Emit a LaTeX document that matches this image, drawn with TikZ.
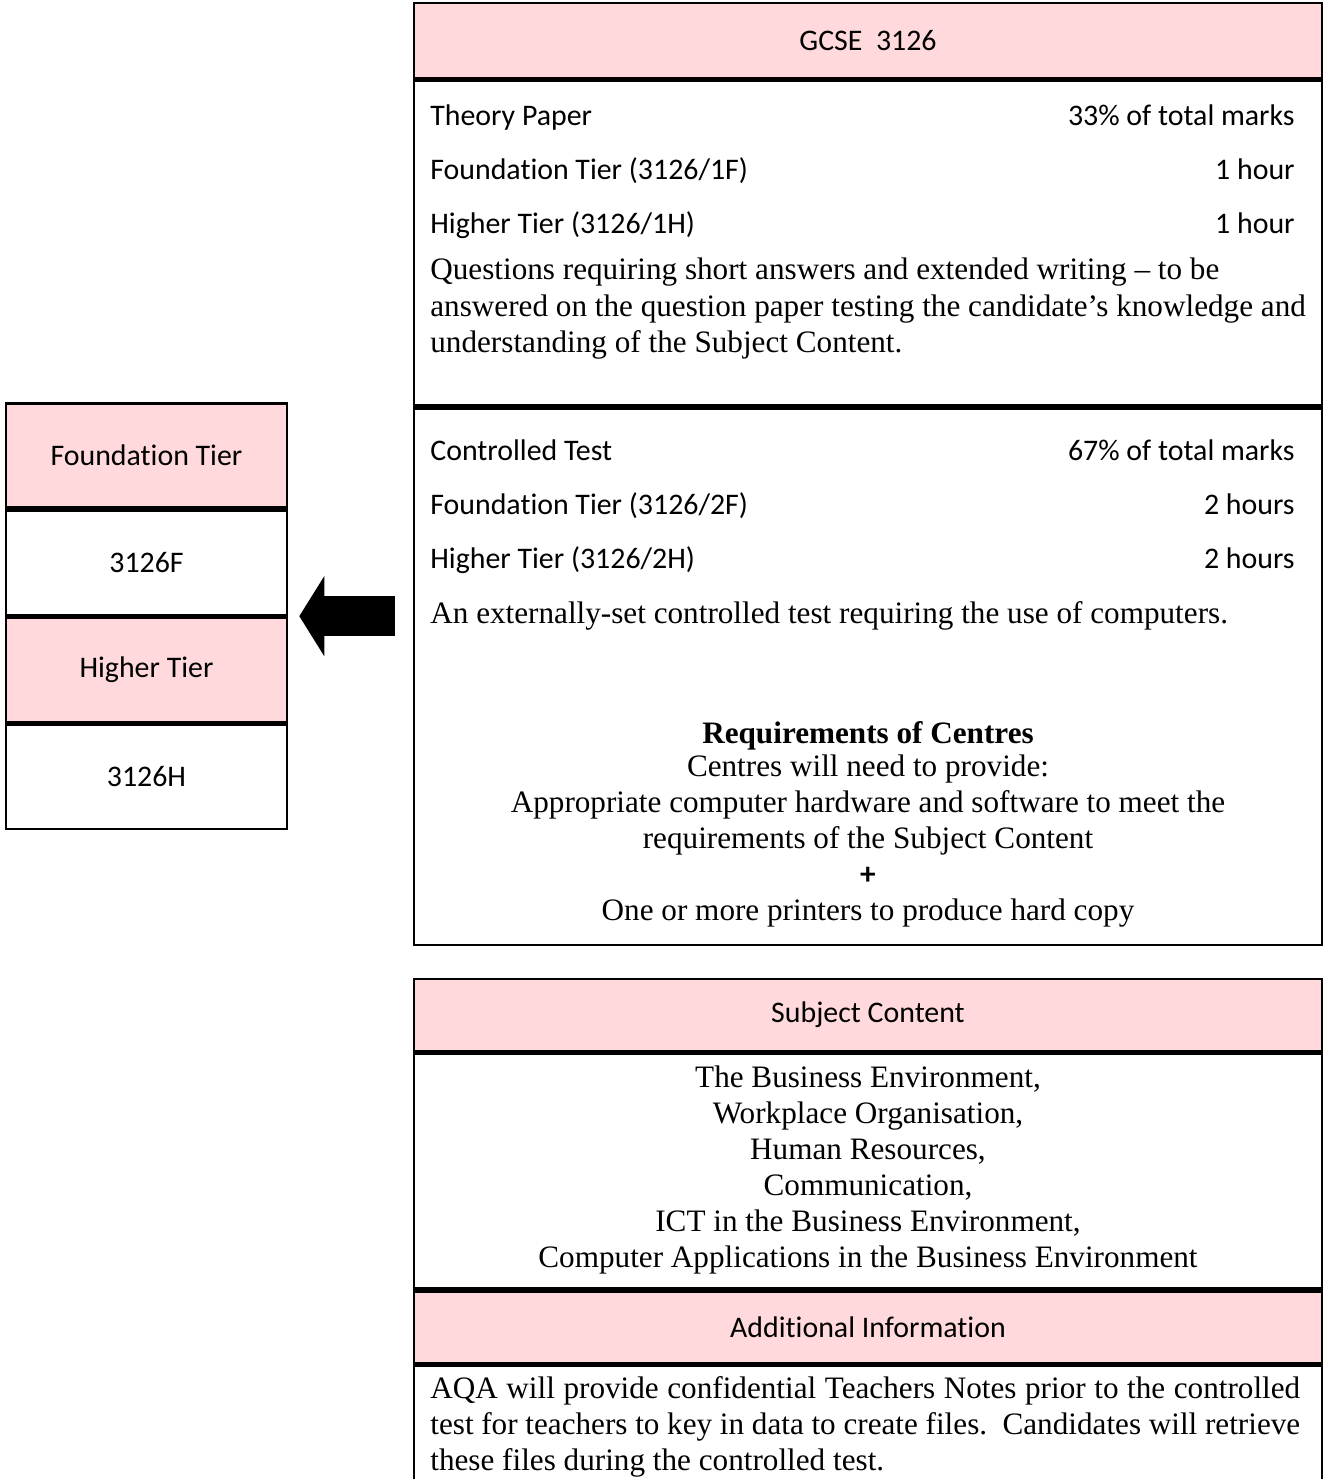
\documentclass[tikz,border=0pt]{standalone}
\usepackage{fontspec}
\setmainfont{Liberation Serif}
\setsansfont[Ligatures=NoCommon]{Carlito}
\usetikzlibrary{
    arrows.meta,
    positioning,
    calc
}
\definecolor{headpink}{RGB}{255,217,220}
\tikzset{
    % Boxes
    headbox/.style={
        rectangle,
        draw=black,
        line width=1.5pt,
        fill=headpink,
        minimum width=18.16cm,
        minimum height=1.5cm,
        inner sep=0pt,
        font=\sffamily\fontsize{17}{20}\selectfont
    },
    bodybox/.style={
        rectangle,
        draw=black,
        line width=1.5pt,
        fill=white,
        minimum width=18.16cm,
        inner sep=0pt
    },
    tierhead/.style={
        headbox,
        minimum width=5.62cm,
        minimum height=2.09cm
    },
    tiercode/.style={
        bodybox,
        minimum width=5.62cm,
        minimum height=2.09cm,
        font=\sffamily\fontsize{17}{20}\selectfont
    },
    % Text
    rowleft/.style={
        anchor=base west,
        inner sep=0pt,
        font=\sffamily\fontsize{17}{20}\selectfont
    },
    rowright/.style={
        anchor=base east,
        inner sep=0pt,
        font=\sffamily\fontsize{17}{20}\selectfont
    },
    prose/.style={
        anchor=north west,
        inner sep=0pt,
        text width=17.4cm,
        align=justify,
        font=\fontsize{17.75}{20.5}\selectfont
    },
    centred/.style={
        inner sep=0pt,
        align=center,
        font=\fontsize{17.75}{20.5}\selectfont
    },
    % Arrow
    blockarrow/.style={
        line width=0.8cm,
        -{Triangle[length=0.5cm,width=1.58cm]}
    }
}

\begin{document}
\begin{tikzpicture}[x=0.02cm, y=-0.02cm]

    % Page
    \clip (0,0) rectangle (1327,1479);

    % GCSE box
    \node[headbox] (gcse) at (868,40.5) {GCSE~ 3126};
    \node[bodybox, minimum height=6.5cm, below=0pt of gcse] (theory) {};
    \node[bodybox, minimum height=10.74cm, below=0pt of theory] (ctrl) {};

    % Theory paper
    \node[rowleft] (thname) at (430,126) {Theory Paper};
    \node[rowright] (thmarks) at (1295,126) {33\% of total marks};
    \node[rowleft] (thfound) at (430,180) {Foundation Tier (3126/1F)};
    \node[rowright] (thfoundtime) at (1295,180) {1 hour};
    \node[rowleft] (thhigher) at (430,234) {Higher Tier (3126/1H)};
    \node[rowright] (thhighertime) at (1295,234) {1 hour};
    \node[centred, anchor=north west, align=left] (thtext) at (430,258) {Questions requiring short answers and extended writing -- to be\\
        answered on the question paper testing the candidate's knowledge and\\
        understanding of the Subject Content.};

    % Controlled test
    \node[rowleft] (ctname) at (430,460) {Controlled Test};
    \node[rowright] (ctmarks) at (1295,460) {67\% of total marks};
    \node[rowleft] (ctfound) at (430,514) {Foundation Tier (3126/2F)};
    \node[rowright] (ctfoundtime) at (1295,514) {2 hours};
    \node[rowleft] (cthigher) at (430,568) {Higher Tier (3126/2H)};
    \node[rowright] (cthighertime) at (1295,568) {2 hours};
    \node[rowleft, font=\fontsize{17.75}{20.5}\selectfont] (cttext) at (430,623) {An externally-set controlled test requiring the use of computers.};

    % Requirements
    \node[centred, font=\bfseries\fontsize{17.75}{20.5}\selectfont] (reqtitle) at (868,736) {Requirements of Centres};
    \node[centred] (reqlist) at (868,841) {Centres will need to provide:\\
        Appropriate computer hardware and software to meet the\\
        requirements of the Subject Content\\
        {\sffamily\bfseries +}\\
        One or more printers to produce hard copy};

    % Subject content box
    \node[headbox, minimum height=1.44cm] (subjhead) at (868,1015) {Subject Content};
    \node[bodybox, minimum height=4.7cm, below=0pt of subjhead] (subjbody) {};
    \node[headbox, minimum height=1.44cm, below=0pt of subjbody] (infohead) {Additional Information};
    \node[bodybox, minimum height=3cm, below=0pt of infohead] (infobody) {};

    \node[centred] (subjlist) at (868,1170) {The Business Environment,\\
        Workplace Organisation,\\
        Human Resources,\\
        Communication,\\
        ICT in the Business Environment,\\
        Computer Applications in the Business Environment};
    \node[prose] (infotext) at (430,1376) {AQA will provide confidential Teachers Notes prior to the controlled\linebreak
        test for teachers to key in data to create files.\ \ Candidates will retrieve\linebreak
        these files during the controlled test.};

    % Tier box
    \node[tierhead] (foundhead) at (146.5,455.5) {Foundation Tier};
    \node[tiercode, below=0pt of foundhead] (foundcode) {3126F};
    \node[tierhead, below=0pt of foundcode] (higherhead) {Higher Tier};
    \node[tiercode, below=0pt of higherhead] (highercode) {3126H};

    % Arrow
    \path (higherhead.north east) ++(0.22cm,0) coordinate (arrowtip);
    \path (ctrl.west |- arrowtip) ++(-0.36cm,0) coordinate (arrowtail);
    \draw[blockarrow] (arrowtail) -- (arrowtip);

\end{tikzpicture}
\end{document}
